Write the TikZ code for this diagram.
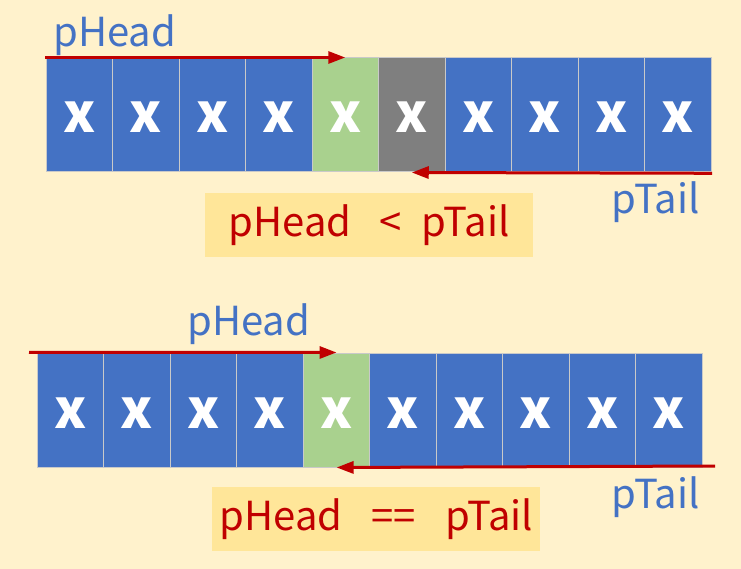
\documentclass[tikz,border=0pt]{standalone}
\usepackage{fontspec}
\setmainfont{Noto Sans CJK SC}
\usetikzlibrary{arrows.meta}
\definecolor{bg}{HTML}{FFF2CC}
\definecolor{cblue}{HTML}{4472C4}
\definecolor{cgreen}{HTML}{A9D18E}
\definecolor{cgray}{HTML}{7F7F7F}
\definecolor{cline}{HTML}{C9C9C9}
\definecolor{ptred}{HTML}{C00000}
\definecolor{ptblue}{HTML}{4472C4}
\definecolor{condbg}{HTML}{FFE699}
\begin{document}
\begin{tikzpicture}[x=1pt,y=-1pt,
  cell/.style={draw=cline, line width=1pt, minimum width=66.5pt, minimum height=114pt, inner sep=0pt, text=white, font=\fontsize{54}{54}\selectfont\bfseries, text height=36pt, text depth=0pt},
  ptr/.style={draw=ptred, line width=3pt, -{Triangle[length=17pt,width=12pt]}},
  lbl/.style={text=ptblue, font=\fontsize{40}{40}\selectfont, inner sep=0pt},
  cond/.style={fill=condbg, text=ptred, font=\fontsize{40}{40}\selectfont, minimum width=328pt, minimum height=64pt, inner sep=0pt}]
\fill[bg] (0,0) rectangle (741,569);
% pHead < pTail
\foreach \c [count=\i] in {cblue,cblue,cblue,cblue,cgreen,cgray,cblue,cblue,cblue,cblue}
  \node[cell, fill=\c] (a\i) at ({46+66.5*(\i-0.5)},115) {x};
\node[lbl, anchor=base west] (h1) at (53,46.7) {pHead};
\node[lbl, anchor=base east] (t1) at (700,213.3) {pTail};
\coordinate (hs1) at (45,57.5);
\coordinate (ts1) at (712,173.3);
\draw[ptr] (hs1) -- (a5.north);
\draw[ptr] (ts1) -- (a6.south);
\node[cond] (c1) at (369,225) {pHead\hspace{28pt}<\hspace{20pt}pTail};
% pHead == pTail
\foreach \c [count=\i] in {cblue,cblue,cblue,cblue,cgreen,cblue,cblue,cblue,cblue,cblue}
  \node[cell, fill=\c] (b\i) at ({37.3+66.5*(\i-0.5)},410) {x};
\node[lbl, anchor=base west] (h2) at (187,335.7) {pHead};
\node[lbl, anchor=base east] (t2) at (700,508.3) {pTail};
\coordinate (hs2) at (29,352.3);
\coordinate (ts2) at (715,466);
\draw[ptr] (hs2) -- (b5.north);
\draw[ptr] (ts2) -- (b5.south);
\node[cond] (c2) at (376.4,519.2) {pHead\hspace{29pt}==\hspace{29pt}pTail};
\end{tikzpicture}
\end{document}
